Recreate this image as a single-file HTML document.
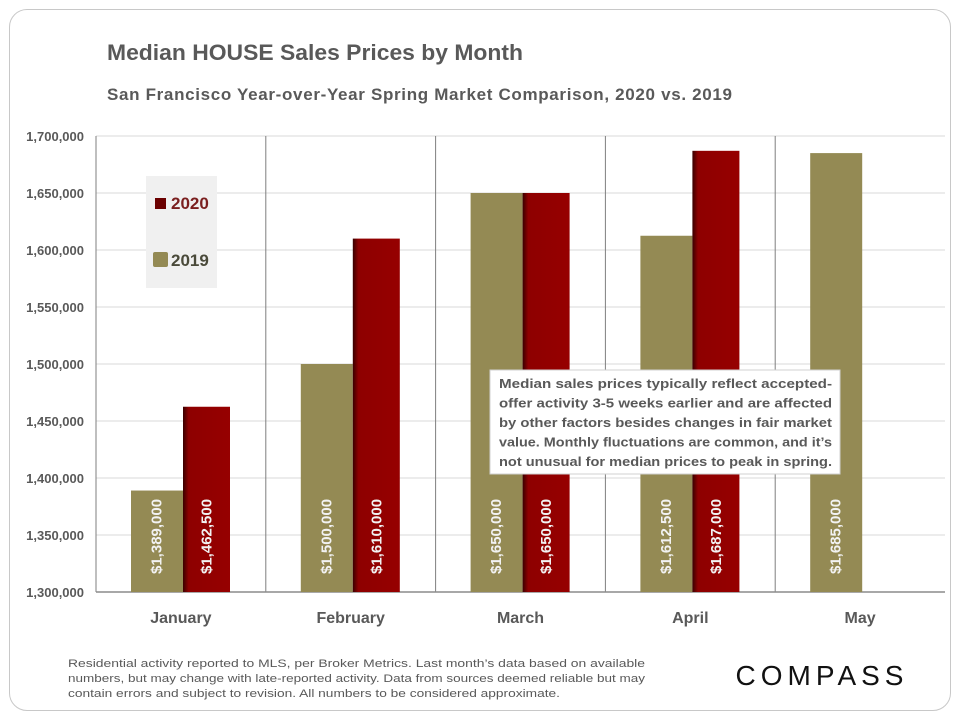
<!DOCTYPE html>
<html><head><meta charset="utf-8"><style>
body{margin:0;background:#fff;width:960px;height:720px;overflow:hidden;font-family:"Liberation Sans",sans-serif}
#card{position:absolute;left:9px;top:9px;width:940px;height:700px;border:1px solid #c8c8c8;border-radius:18px}
</style></head><body>
<div id="card"></div>
<svg id="c" width="960" height="720" style="position:absolute;left:0;top:0"></svg>
<script>
const months=["January","February","March","April","May"];
const v2019=[1389000,1500000,1650000,1612500,1685000];
const v2020=[1462500,1610000,1650000,1687000,null];
const labels2019=["$1,389,000","$1,500,000","$1,650,000","$1,612,500","$1,685,000"];
const labels2020=["$1,462,500","$1,610,000","$1,650,000","$1,687,000",""];
const yTicks=[1300000,1350000,1400000,1450000,1500000,1550000,1600000,1650000,1700000];
const yTickLabels=["1,300,000","1,350,000","1,400,000","1,450,000","1,500,000","1,550,000","1,600,000","1,650,000","1,700,000"];
const svg=document.getElementById('c');const NS='http://www.w3.org/2000/svg';
const L=96,R=945,T=136,B=592,yMin=1300000,yMax=1700000,cw=(R-L)/5;
const y=v=>B-(v-yMin)/(yMax-yMin)*(B-T);
const x=i=>L+i*cw;
function el(t,a,txt){const e=document.createElementNS(NS,t);for(const k in a)e.setAttribute(k,a[k]);if(txt!=null)e.textContent=txt;svg.appendChild(e);return e;}
svg.innerHTML='<defs><linearGradient id="g20" x1="0" x2="1"><stop offset="0" stop-color="#3a0000"/><stop offset="0.12" stop-color="#8e0000"/><stop offset="1" stop-color="#960000"/></linearGradient></defs>';
let t=el('text',{x:107,y:60,'font-size':22,'font-weight':'bold',fill:'#595959',textLength:416,lengthAdjust:'spacingAndGlyphs'},'Median HOUSE Sales Prices by Month');

t=el('text',{x:107,y:100,'font-size':17,'font-weight':'bold',fill:'#595959',textLength:625,lengthAdjust:'spacing'},'San Francisco Year-over-Year  Spring Market Comparison,  2020 vs. 2019');

yTicks.forEach((v,i)=>{
 const g=el('line',{x1:L,x2:R,y1:y(v),y2:y(v),stroke:'#d9d9d9','stroke-width':1});
 
 const tl=el('text',{x:84,y:y(v)+5,'text-anchor':'end','font-size':13,'font-weight':'bold',fill:'#595959'},yTickLabels[i]);
 
});
for(let i=0;i<5;i++){const s=el('line',{x1:x(i),x2:x(i),y1:T,y2:B,stroke:'#7f7f7f','stroke-width':1});
 }
el('line',{x1:L,x2:R,y1:B,y2:B,stroke:'#8c8c8c','stroke-width':1.5});
months.forEach((m,i)=>{
 const a=v2019[i];
 if(a!=null){const r=el('rect',{x:x(i)+35,y:y(a),width:52,height:B-y(a),fill:'#948a54'});
  
  const cx=x(i)+61;const tx=el('text',{x:cx,y:B-18,transform:`rotate(-90 ${cx} ${B-18})`,'font-size':15,'font-weight':'bold',fill:'#f2f2f2','dominant-baseline':'central'},labels2019[i]);
  }
 const b=v2020[i];
 if(b!=null){const r=el('rect',{x:x(i)+87,y:y(b),width:47,height:B-y(b),fill:'url(#g20)'});
  
  const cx=x(i)+111;const tx=el('text',{x:cx,y:B-18,transform:`rotate(-90 ${cx} ${B-18})`,'font-size':15,'font-weight':'bold',fill:'#f2f2f2','dominant-baseline':'central'},labels2020[i]);
  }
 const ml=el('text',{x:x(i)+cw/2,y:623,'text-anchor':'middle','font-size':16,'font-weight':'bold',fill:'#595959'},m);
 
});
let lg=el('rect',{x:146,y:176,width:71,height:112,fill:'#f0f0f0'});
el('rect',{x:155,y:198,width:11,height:11,fill:'#6a0000'});
t=el('text',{x:171,y:209,'font-size':17,'font-weight':'bold',fill:'#7a1f1f'},'2020');
el('rect',{x:153,y:252,width:15,height:15,rx:2,fill:'#948a54'});
t=el('text',{x:171,y:266,'font-size':17,'font-weight':'bold',fill:'#4a4a3a'},'2019');
let an=el('rect',{x:490,y:370,width:350,height:104,fill:'#fff',stroke:'#d0d0d0'});
["Median sales prices typically reflect accepted-","offer activity 3-5 weeks earlier and are affected","by other factors besides changes in fair market","value. Monthly fluctuations are common, and it’s","not unusual for median prices to peak in spring."].forEach((s,i)=>{
 const a=el('text',{x:499,y:388+i*19.5,'font-size':13.2,'font-weight':'bold',fill:'#595959',textLength:333,lengthAdjust:'spacingAndGlyphs'},s);
 });
const fl=[577,577,492];
["Residential activity reported to MLS, per Broker Metrics. Last month’s data based on available","numbers, but may change with late-reported activity. Data from sources deemed reliable but may","contain errors and subject to revision. All numbers to be considered approximate."].forEach((s,i)=>{
 const a=el('text',{x:68,y:667+i*15,'font-size':11,fill:'#595959',textLength:fl[i],lengthAdjust:'spacingAndGlyphs'},s);
 });
t=el('text',{x:822,y:685,'text-anchor':'middle','font-size':28,fill:'#111','letter-spacing':5},'COMPASS');
</script></body></html>
